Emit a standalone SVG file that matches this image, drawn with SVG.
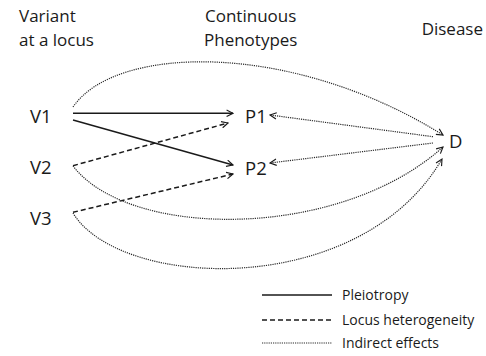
<svg xmlns="http://www.w3.org/2000/svg" width="486" height="356" viewBox="0 0 486 356">
<style>
text{font-family:"Open Sans","Liberation Sans",sans-serif;fill:#1a1a1a}
.h{font-size:17px}
.n{font-size:18.5px}
.lg{font-size:14px}
.solid{stroke:#1a1a1a;stroke-width:1.5;fill:none}
.dash{stroke:#1a1a1a;stroke-width:1.5;fill:none;stroke-dasharray:5 3}
.dot{stroke:#2a2a2a;stroke-width:1.2;fill:none;stroke-dasharray:1.2 1}
</style>
<defs>
<marker id="ah" viewBox="0 0 10 10" refX="9" refY="5" markerWidth="8" markerHeight="8" markerUnits="userSpaceOnUse" orient="auto">
<path d="M1,1 L9,5 L1,9" fill="none" stroke="#1a1a1a" stroke-width="1.4"/>
</marker>
</defs>
<g id="headers">
<text class="h" x="19" y="22">Variant</text>
<text class="h" x="19" y="46">at a locus</text>
<text class="h" x="205" y="22">Continuous</text>
<text class="h" x="204" y="46">Phenotypes</text>
<text class="h" x="483" y="35" text-anchor="end">Disease</text>
</g>
<g id="V1"><text class="n" x="30" y="123">V1</text></g>
<g id="V2"><text class="n" x="30" y="174">V2</text></g>
<g id="V3"><text class="n" x="30" y="225">V3</text></g>
<g id="P1"><text class="n" x="245" y="123">P1</text></g>
<g id="P2"><text class="n" x="245" y="175">P2</text></g>
<g id="D"><text class="n" x="449" y="148">D</text></g>
<g id="connectors">
<line class="solid" x1="73" y1="113.3" x2="233" y2="113.3" marker-end="url(#ah)"/>
<line class="solid" x1="73" y1="120" x2="233" y2="165" marker-end="url(#ah)"/>
<line class="dash" x1="73" y1="165.7" x2="228" y2="123" marker-end="url(#ah)"/>
<line class="dash" x1="73" y1="212.3" x2="233" y2="174" marker-end="url(#ah)"/>
<path class="dot" d="M73,107 C115,45 290,40 443,135" marker-end="url(#ah)"/>
<path class="dot" d="M433,136.7 L270,115" marker-end="url(#ah)"/>
<path class="dot" d="M433,143 L270,163" marker-end="url(#ah)"/>
<path class="dot" d="M73,166 C130,240 340,240 443,147" marker-end="url(#ah)"/>
<path class="dot" d="M73,213 C120,290 360,300 442,159" marker-end="url(#ah)"/>
</g>
<g id="legend">
<line class="solid" x1="262" y1="295" x2="332" y2="295"/>
<text class="lg" x="342" y="300">Pleiotropy</text>
<line class="dash" x1="262" y1="320" x2="332" y2="320"/>
<text class="lg" x="342" y="325">Locus heterogeneity</text>
<line class="dot" x1="262" y1="343" x2="332" y2="343"/>
<text class="lg" x="342" y="348">Indirect effects</text>
</g>
</svg>
